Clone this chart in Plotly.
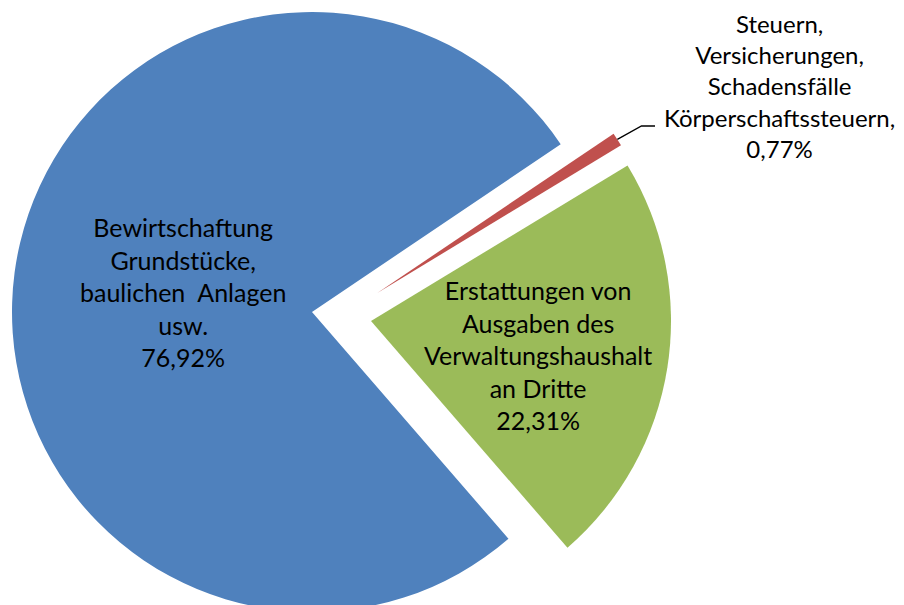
import math
import plotly.graph_objects as go

# ---- data ----
categories = [
    "Steuern, Versicherungen, Schadensfälle Körperschaftssteuern",
    "Erstattungen von Ausgaben des Verwaltungshaushalt an Dritte",
    "Bewirtschaftung Grundstücke, baulichen  Anlagen usw.",
]
label_lines = [
    ["Steuern,", "Versicherungen,", "Schadensfälle", "Körperschaftssteuern,"],
    ["Erstattungen von", "Ausgaben des", "Verwaltungshaushalt", "an Dritte"],
    ["Bewirtschaftung", "Grundstücke,", "baulichen\u00a0\u00a0Anlagen", "usw."],
]
shares = [0.77, 22.31, 76.92]

# ---- styles / layout ----
colors = ["#C0504D", "#9BBB59", "#4F81BD"]
W, H = 904, 640          # figure size (page body margin offsets it by 8px)
OFF = 8                  # page offset of the figure
rotation = 56
# one pie per slice (exploded slices get their own, shifted domain)
domains = [
    dict(x=[0.08852, 0.72852], y=[0.109375, 1.0]),                # red
    dict(x=[0.06905, 0.73405], y=[0.0422, 0.0422 + 0.9375]),       # green
    dict(x=[0.00378, 0.66878], y=[0.05625, 0.05625 + 0.9375]),     # blue
]
label_pos = [(779, 86), (538, 355), (183, 292)]  # page pixel centres of label blocks
label_size = [24, 25, 25]
FONT = "Lato"

fig = go.Figure()
for k in [2, 1, 0]:
    cols = [colors[j] if j == k else "rgba(0,0,0,0)" for j in range(len(shares))]
    fig.add_trace(go.Pie(
        labels=categories, values=shares, sort=False, direction="clockwise",
        rotation=rotation, textinfo="none", hoverinfo="skip",
        marker=dict(colors=cols, line=dict(width=0)),
        domain=domains[k], showlegend=False,
    ))

def fmt(v):
    return f"{v:.2f}".replace(".", ",") + "%"

def to_paper(px, py):
    return (px - OFF) / W, 1 - (py - OFF) / H

for k in range(len(shares)):
    txt = "<br>".join(label_lines[k] + [fmt(shares[k])])
    x, y = to_paper(*label_pos[k])
    fig.add_annotation(
        x=x, y=y, xref="paper", yref="paper",
        text=txt, showarrow=False, align="center",
        xanchor="center", yanchor="middle",
        font=dict(family=FONT, size=label_size[k], color="#000000"),
    )

# leader line from the red slice's outer edge to its label
d = domains[0]
cx = W * (d["x"][0] + d["x"][1]) / 2
cy = H * (1 - (d["y"][0] + d["y"][1]) / 2)
r = min(W * (d["x"][1] - d["x"][0]), H * (d["y"][1] - d["y"][0])) / 2
mid = math.radians(rotation + shares[0] / 100 * 360 / 2)
sx, sy = cx + r * math.sin(mid), cy - r * math.cos(mid)
pts = [(sx / W, 1 - sy / H), to_paper(641.5, 126), to_paper(655, 126)]
path = "M " + " L ".join(f"{x},{y}" for x, y in pts)
fig.add_shape(type="path", path=path, xref="paper", yref="paper",
              line=dict(color="#000000", width=1.3))

fig.update_layout(
    width=W, height=H, margin=dict(l=0, r=0, t=0, b=0),
    paper_bgcolor="white", plot_bgcolor="white", showlegend=False,
)
fig.write_html("out.html")
